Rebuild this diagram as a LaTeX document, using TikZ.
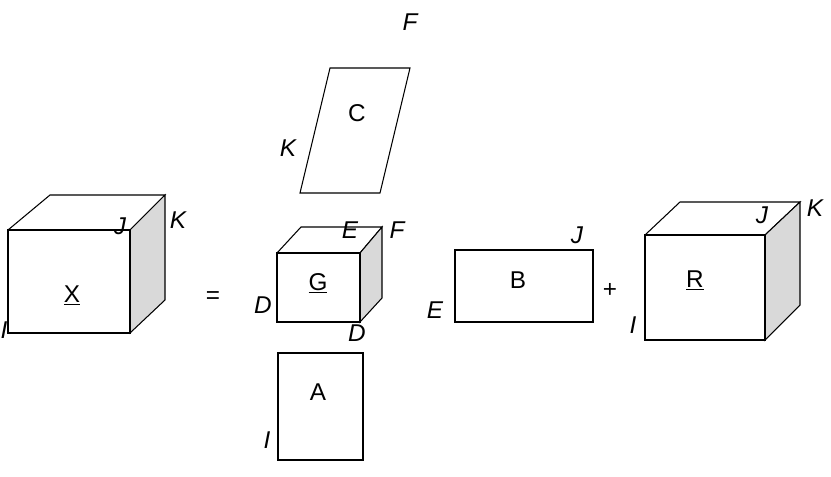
\documentclass[tikz,border=0pt]{standalone}
\usepackage{fontspec}
\setmainfont{Liberation Sans}
\begin{document}
\begin{tikzpicture}[x=0.03cm,y=-0.03cm,line width=0.9pt,
  lbl/.style={font=\itshape\huge,inner sep=0},
  txt/.style={font=\huge,inner sep=0}]
\useasboundingbox (0,0) rectangle (831,477);
% X cube
\draw (8,230) -- (50,195) -- (165,195) -- (130,230);
\filldraw[fill=black!15] (130,230) -- (165,195) -- (165,300) -- (130,333) -- cycle;
\draw (8,230) rectangle (130,333);
\node[txt] (X) at (72,295) {\underline{X}};
\node[lbl] (XJ) at (120,226) {J};
\node[lbl] (XK) at (178,220) {K};
\node[lbl] (XI) at (4,330) {I};
\node[txt] (eq) at (213,298) {=};
% C
\draw (300,193) -- (330,68) -- (410,68) -- (380,193) -- cycle;
\node[txt] (C) at (357,113) {C};
\node[lbl] (CK) at (288,148) {K};
\node[lbl] (CF) at (410,22) {F};
% G cube
\draw (277,253) -- (301,227) -- (382,227) -- (360,253);
\filldraw[fill=black!15] (360,253) -- (382,227) -- (382,298) -- (360,322) -- cycle;
\draw (277,253) rectangle (360,322);
\node[txt] (G) at (318,283) {\underline{G}};
\node[lbl] (GE) at (350,230) {E};
\node[lbl] (GF) at (397,230) {F};
\node[lbl] (GD1) at (263,305) {D};
\node[lbl] (GD2) at (357,333) {D};
% A
\draw (278,353) rectangle (363,460);
\node[txt] (A) at (318,392) {A};
\node[lbl] (AI) at (267,440) {I};
% B
\draw (455,250) rectangle (593,322);
\node[txt] (B) at (518,280) {B};
\node[lbl] (BE) at (435,310) {E};
\node[lbl] (BJ) at (577,235) {J};
\node[txt] (plus) at (610,290) {+};
% R cube
\draw (645,235) -- (680,202) -- (800,202) -- (765,235);
\filldraw[fill=black!15] (765,235) -- (800,202) -- (800,305) -- (765,340) -- cycle;
\draw (645,235) rectangle (765,340);
\node[txt] (R) at (695,280) {\underline{R}};
\node[lbl] (RJ) at (762,215) {J};
\node[lbl] (RK) at (815,208) {K};
\node[lbl] (RI) at (633,325) {I};
\end{tikzpicture}
\end{document}
